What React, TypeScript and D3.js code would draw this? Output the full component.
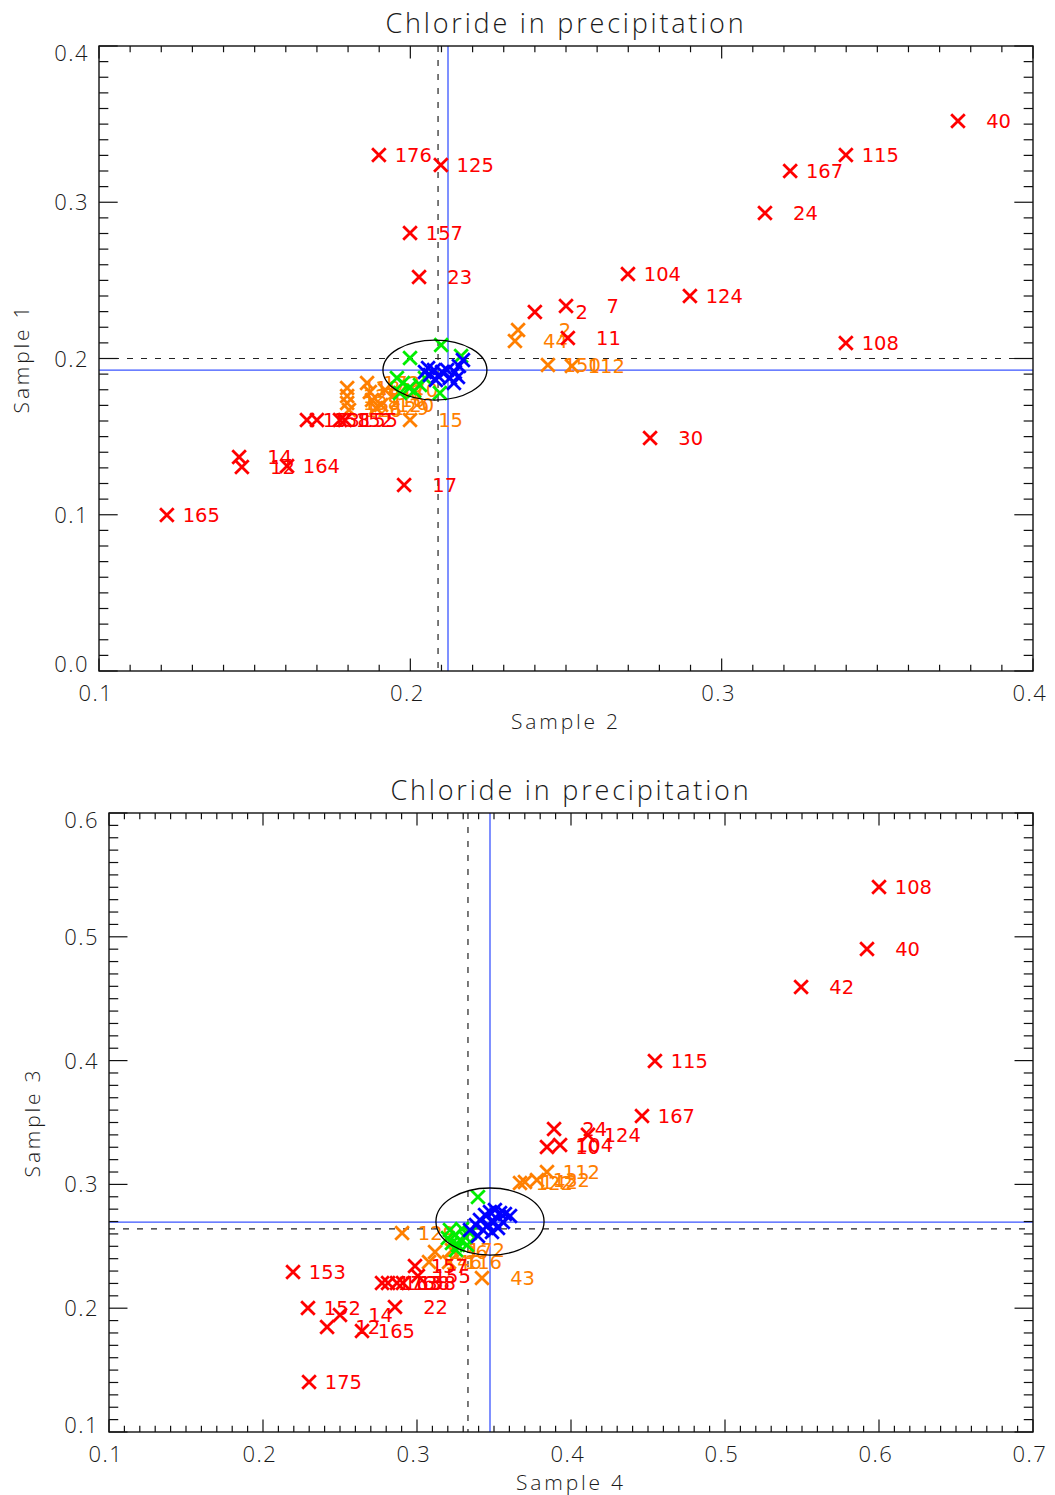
import React from "react";
import * as d3 from "d3";

type Pt = [string, number, number];

// ---------- Panel 1: Sample 2 (x) vs Sample 1 (y) ----------
const P1_X_TICKS = [0.1, 0.2, 0.3, 0.4];
const P1_Y_TICKS = [0.0, 0.1, 0.2, 0.3, 0.4];

const P1_RED: Pt[] = [
  ["40", 0.3759, 0.352], ["115", 0.3399, 0.3302], ["167", 0.322, 0.32], ["24", 0.3139, 0.2931],
  ["176", 0.1899, 0.3302], ["125", 0.2098, 0.3238], ["157", 0.1999, 0.2803], ["23", 0.2028, 0.2522],
  ["104", 0.2699, 0.2541], ["124", 0.2898, 0.24], ["2", 0.24, 0.2298], ["7", 0.25, 0.2336],
  ["11", 0.2506, 0.2131], ["108", 0.3399, 0.2099], ["30", 0.277, 0.1491], ["17", 0.198, 0.119],
  ["165", 0.1218, 0.0998], ["14", 0.145, 0.137], ["12", 0.1459, 0.1306], ["164", 0.1604, 0.1312],
  ["153", 0.1668, 0.1606], ["158", 0.17, 0.1606], ["152", 0.1774, 0.1606], ["155", 0.179, 0.1606],
];
const P1_ORANGE: Pt[] = [
  ["118", 0.1797, 0.1811], ["128", 0.1797, 0.176], ["138", 0.1797, 0.1715], ["126", 0.1803, 0.167],
  ["172", 0.1861, 0.1843], ["148", 0.187, 0.1786], ["116", 0.1877, 0.1734], ["129", 0.189, 0.1683],
  ["120", 0.1906, 0.1702], ["170", 0.1919, 0.1798], ["15", 0.1999, 0.1606], ["2", 0.2346, 0.2182],
  ["44", 0.2336, 0.2112], ["150", 0.2442, 0.1958], ["112", 0.2519, 0.1952],
];
const P1_GREEN: Pt[] = [
  ["", 0.1999, 0.2003], ["", 0.2099, 0.2086], ["", 0.2163, 0.2016], ["", 0.1957, 0.1875],
  ["", 0.1976, 0.1843], ["", 0.1996, 0.1811], ["", 0.2012, 0.1792], ["", 0.2031, 0.183],
  ["", 0.1967, 0.1779], ["", 0.2095, 0.1779], ["", 0.2047, 0.1875],
];
const P1_BLUE: Pt[] = [
  ["", 0.2047, 0.1914], ["", 0.2063, 0.1894], ["", 0.2076, 0.1926], ["", 0.2089, 0.1888],
  ["", 0.2057, 0.1939], ["", 0.2102, 0.1914], ["", 0.2127, 0.1875], ["", 0.2143, 0.1914],
  ["", 0.2156, 0.1952], ["", 0.2169, 0.199], ["", 0.214, 0.1843], ["", 0.2153, 0.1882],
  ["", 0.2118, 0.1926], ["", 0.2082, 0.1862],
];
const P1_REF = { dashX: 0.2089, dashY: 0.2, blueX: 0.2121, blueY: 0.1926 };
const P1_ELLIPSE = { cx: 0.2079, cy: 0.1926, rx: 0.0167, ry: 0.0192 };

// ---------- Panel 2: Sample 4 (x) vs Sample 3 (y) ----------
const P2_X_TICKS = [0.1, 0.2, 0.3, 0.4, 0.5, 0.6, 0.7];
const P2_Y_TICKS = [0.1, 0.2, 0.3, 0.4, 0.5, 0.6];

const P2_RED: Pt[] = [
  ["108", 0.6, 0.5402], ["40", 0.5922, 0.4901], ["42", 0.5494, 0.4595], ["115", 0.4545, 0.3997],
  ["167", 0.4461, 0.3553], ["24", 0.389, 0.3448], ["124", 0.411, 0.34], ["10", 0.3844, 0.3302],
  ["104", 0.3929, 0.3318], ["153", 0.2195, 0.2292], ["152", 0.2292, 0.2002], ["14", 0.25, 0.1945],
  ["12", 0.2416, 0.1848], ["165", 0.2643, 0.1816], ["175", 0.2299, 0.1404], ["22", 0.2857, 0.201],
  ["176", 0.2773, 0.2204], ["163", 0.2812, 0.2204], ["138", 0.287, 0.2204], ["158", 0.2909, 0.2204],
  ["157", 0.2987, 0.2341], ["155", 0.3006, 0.226],
];
const P2_ORANGE: Pt[] = [
  ["129", 0.2903, 0.2607], ["136", 0.3117, 0.2454], ["146", 0.3078, 0.2373], ["116", 0.3208, 0.2373],
  ["172", 0.3227, 0.247], ["43", 0.3422, 0.2244], ["122", 0.3669, 0.3011], ["142", 0.3701, 0.3019],
  ["132", 0.3779, 0.3036], ["112", 0.3844, 0.31],
];
const P2_GREEN: Pt[] = [
  ["", 0.3396, 0.2898], ["", 0.3214, 0.2632], ["", 0.3247, 0.2591], ["", 0.3279, 0.2551],
  ["", 0.3312, 0.2575], ["", 0.3344, 0.2607], ["", 0.3266, 0.2511], ["", 0.3227, 0.2527],
  ["", 0.3292, 0.264], ["", 0.3325, 0.2511], ["", 0.3253, 0.247], ["", 0.3201, 0.2567],
];
const P2_BLUE: Pt[] = [
  ["", 0.3344, 0.2632], ["", 0.3383, 0.2672], ["", 0.3409, 0.2712], ["", 0.3442, 0.2753],
  ["", 0.3474, 0.2777], ["", 0.3506, 0.2793], ["", 0.3539, 0.2769], ["", 0.3571, 0.2761],
  ["", 0.3604, 0.2745], ["", 0.3461, 0.2672], ["", 0.35, 0.2696], ["", 0.3526, 0.2648],
  ["", 0.3429, 0.2632], ["", 0.3396, 0.2583], ["", 0.3487, 0.2616], ["", 0.3558, 0.2696],
];
const P2_REF = { dashX: 0.3331, dashY: 0.264, blueX: 0.3474, blueY: 0.2696 };
const P2_ELLIPSE = { cx: 0.3474, cy: 0.27, rx: 0.0351, ry: 0.0271 };

const TITLE = "Chloride in precipitation";
const FONT = "'DejaVu Sans', sans-serif";
const AXFONT = "'Open Sans', 'DejaVu Sans', sans-serif";
const TXT = "#1a1a1a";

const COLORS = { red: "#ff0000", orange: "#ff7f00", green: "#00ee00", blue: "#0000ff" };

interface PanelProps {
  box: { left: number; right: number; top: number; bottom: number };
  xDomain: [number, number];
  yDomain: [number, number];
  xTicks: number[];
  yTicks: number[];
  xLabel: string;
  yLabel: string;
  yLabelX: number;
  series: { pts: Pt[]; color: string }[];
  refLines: { dashX: number; dashY: number; blueX: number; blueY: number };
  ellipse: { cx: number; cy: number; rx: number; ry: number };
}

function Cross({ x, y, color }: { x: number; y: number; color: string }) {
  const s = 6.8;
  return (
    <path
      d={`M${x - s},${y - s}L${x + s},${y + s}M${x - s},${y + s}L${x + s},${y - s}`}
      stroke={color}
      strokeWidth={2.8}
      fill="none"
    />
  );
}

function Panel(p: PanelProps) {
  const { box } = p;
  const xs = d3.scaleLinear().domain(p.xDomain).range([box.left, box.right]);
  const ys = d3.scaleLinear().domain(p.yDomain).range([box.bottom, box.top]);
  const w = box.right - box.left;
  const h = box.bottom - box.top;
  const xMajorLen = 0.02 * h;
  const yMajorLen = 0.02 * w;

  const nx = Math.round((p.xDomain[1] - p.xDomain[0]) / 0.01);
  const ny = Math.round((p.yDomain[1] - p.yDomain[0]) / 0.01);
  const xMinor = d3.range(nx + 1).map((i) => p.xDomain[0] + i * 0.01);
  const yMinor = d3.range(ny + 1).map((i) => p.yDomain[0] + i * 0.01);

  const ticks: React.ReactNode[] = [];
  xMinor.forEach((v, i) => {
    const L = i % 10 === 0 ? xMajorLen : xMajorLen / 2;
    const X = xs(v);
    ticks.push(<line key={`xb${i}`} x1={X} x2={X} y1={box.bottom} y2={box.bottom - L} />);
    ticks.push(<line key={`xt${i}`} x1={X} x2={X} y1={box.top} y2={box.top + L} />);
  });
  yMinor.forEach((v, i) => {
    const L = i % 10 === 0 ? yMajorLen : yMajorLen / 2;
    const Y = ys(v);
    ticks.push(<line key={`yl${i}`} x1={box.left} x2={box.left + L} y1={Y} y2={Y} />);
    ticks.push(<line key={`yr${i}`} x1={box.right} x2={box.right - L} y1={Y} y2={Y} />);
  });

  const cx = xs(p.ellipse.cx);
  const cy = ys(p.ellipse.cy);
  const erx = Math.abs(xs(p.ellipse.cx + p.ellipse.rx) - cx);
  const ery = Math.abs(ys(p.ellipse.cy + p.ellipse.ry) - cy);

  return (
    <g>
      {/* reference lines */}
      <line x1={xs(p.refLines.dashX)} x2={xs(p.refLines.dashX)} y1={box.top} y2={box.bottom}
        stroke="#222" strokeWidth={1.2} strokeDasharray="6,8" />
      <line x1={box.left} x2={box.right} y1={ys(p.refLines.dashY)} y2={ys(p.refLines.dashY)}
        stroke="#222" strokeWidth={1.2} strokeDasharray="6,8" />
      <line x1={xs(p.refLines.blueX)} x2={xs(p.refLines.blueX)} y1={box.top} y2={box.bottom}
        stroke="#3a55ff" strokeWidth={1.3} />
      <line x1={box.left} x2={box.right} y1={ys(p.refLines.blueY)} y2={ys(p.refLines.blueY)}
        stroke="#3a55ff" strokeWidth={1.3} />

      {/* points */}
      {p.series.map((s, si) => (
        <g key={si}>
          {s.pts.map((pt, i) => (
            <g key={i}>
              <Cross x={xs(pt[1])} y={ys(pt[2])} color={s.color} />
              {pt[0] && (
                <text x={xs(pt[1]) + 53} y={ys(pt[2]) + 7} textAnchor="end" fill={s.color}
                  fontFamily={FONT} fontSize={19.5}>
                  {pt[0]}
                </text>
              )}
            </g>
          ))}
        </g>
      ))}

      <ellipse cx={cx} cy={cy} rx={erx} ry={ery} fill="none" stroke="#000" strokeWidth={1.3} />

      {/* frame & ticks */}
      <rect x={box.left} y={box.top} width={w} height={h} fill="none" stroke="#111" strokeWidth={1.4} />
      <g stroke="#111" strokeWidth={1.2}>{ticks}</g>

      {/* tick labels */}
      {p.xTicks.map((v, i) => (
        <text key={`xl${i}`} x={xs(v) - 3} y={box.bottom + 30} textAnchor="middle" fill={TXT}
          fontFamily={AXFONT} fontWeight={300} fontSize={22} letterSpacing={1.5}>
          {d3.format(".1f")(v)}
        </text>
      ))}
      {p.yTicks.map((v, i) => {
        let Y = ys(v);
        if (i === 0) Y -= 7;
        if (i === p.yTicks.length - 1) Y += 7;
        return (
          <text key={`yl${i}`} x={box.left - 10} y={Y + 8} textAnchor="end" fill={TXT}
            fontFamily={AXFONT} fontWeight={300} fontSize={22} letterSpacing={1.5}>
            {d3.format(".1f")(v)}
          </text>
        );
      })}

      {/* titles */}
      <text x={(box.left + box.right) / 2} y={box.top - 13} textAnchor="middle" fill={TXT}
        fontFamily={AXFONT} fontWeight={300} fontSize={27} letterSpacing={2.8}>
        {TITLE}
      </text>
      <text x={(box.left + box.right) / 2} y={box.bottom + 58} textAnchor="middle" fill={TXT}
        fontFamily={AXFONT} fontWeight={300} fontSize={21} letterSpacing={2.8}>
        {p.xLabel}
      </text>
      <text transform={`translate(${p.yLabelX},${(box.top + box.bottom) / 2}) rotate(-90)`}
        textAnchor="middle" fill={TXT} fontFamily={AXFONT} fontWeight={300} fontSize={21} letterSpacing={2.8}>
        {p.yLabel}
      </text>
    </g>
  );
}

export default function App() {
  return (
    <svg width={1055} height={1495} style={{ position: "absolute", left: 0, top: 0, background: "#fff" }}>
      <rect x={0} y={0} width={1055} height={1495} fill="#fff" />
      <Panel
        box={{ left: 99, right: 1033, top: 46, bottom: 671 }}
        xDomain={[0.1, 0.4]}
        yDomain={[0, 0.4]}
        xTicks={P1_X_TICKS}
        yTicks={P1_Y_TICKS}
        xLabel="Sample 2"
        yLabel="Sample 1"
        yLabelX={29}
        series={[
          { pts: P1_ORANGE, color: COLORS.orange },
          { pts: P1_GREEN, color: COLORS.green },
          { pts: P1_BLUE, color: COLORS.blue },
          { pts: P1_RED, color: COLORS.red },
        ]}
        refLines={P1_REF}
        ellipse={P1_ELLIPSE}
      />
      <Panel
        box={{ left: 109, right: 1033, top: 813, bottom: 1432 }}
        xDomain={[0.1, 0.7]}
        yDomain={[0.1, 0.6]}
        xTicks={P2_X_TICKS}
        yTicks={P2_Y_TICKS}
        xLabel="Sample 4"
        yLabel="Sample 3"
        yLabelX={40}
        series={[
          { pts: P2_ORANGE, color: COLORS.orange },
          { pts: P2_GREEN, color: COLORS.green },
          { pts: P2_BLUE, color: COLORS.blue },
          { pts: P2_RED, color: COLORS.red },
        ]}
        refLines={P2_REF}
        ellipse={P2_ELLIPSE}
      />
    </svg>
  );
}
